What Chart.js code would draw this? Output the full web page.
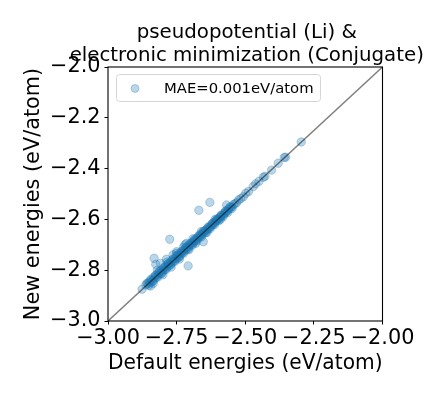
<!DOCTYPE html>
<html>
<head>
<meta charset="utf-8">
<script src="https://cdn.jsdelivr.net/npm/chart.js@4/dist/chart.umd.min.js"></script>
<style>
  html, body { margin: 0; padding: 0; background: #fff; }
  #wrap { width: 432px; height: 396px; }
</style>
</head>
<body>
<div id="wrap"><canvas id="c" width="432" height="396"></canvas></div>
<script>
const TITLE_LINES = ["pseudopotential (Li) &", "electronic minimization (Conjugate)"];
const X_LABEL = "Default energies (eV/atom)";
const Y_LABEL = "New energies (eV/atom)";
const SERIES_LABEL = "MAE=0.001eV/atom";
const X_TICKS = [-3.0, -2.75, -2.5, -2.25, -2.0];
const Y_TICKS = [-3.0, -2.8, -2.6, -2.4, -2.2, -2.0];
const DIAG = [-3.0, -2.0];

const defaultE = [
  -2.876, -2.862, -2.855, -2.850, -2.846, -2.842, -2.838, -2.834, -2.830, -2.826,
  -2.822, -2.818, -2.815, -2.811, -2.808, -2.804, -2.800, -2.797, -2.793, -2.790,
  -2.786, -2.782, -2.779, -2.775, -2.772, -2.768, -2.765, -2.761, -2.758, -2.754,
  -2.751, -2.747, -2.744, -2.740, -2.737, -2.733, -2.730, -2.726, -2.723, -2.719,
  -2.716, -2.712, -2.709, -2.705, -2.702, -2.698, -2.695, -2.691, -2.688, -2.684,
  -2.681, -2.677, -2.674, -2.670, -2.667, -2.663, -2.660, -2.656, -2.653, -2.649,
  -2.646, -2.642, -2.639, -2.635, -2.632, -2.628, -2.625, -2.621, -2.618, -2.614,
  -2.611, -2.607, -2.604, -2.600, -2.597, -2.593, -2.590, -2.586, -2.582, -2.578,
  -2.574, -2.570, -2.566, -2.562, -2.558, -2.553, -2.548, -2.543, -2.537, -2.531,
  -2.524, -2.516, -2.507, -2.498, -2.488, -2.471, -2.462, -2.450, -2.434, -2.428,
  -2.404, -2.380, -2.358, -2.353, -2.296,
  -2.845, -2.835, -2.820, -2.800, -2.785, -2.770, -2.750, -2.740, -2.725, -2.705,
  -2.690, -2.680, -2.660, -2.640, -2.610, -2.590,
  -2.568, -2.629, -2.669, -2.775, -2.653, -2.832, -2.826, -2.809, -2.708, -2.750,
  -2.720, -2.787, -2.763, -2.714,
  -2.858, -2.852, -2.844, -2.836, -2.828, -2.820, -2.812, -2.804, -2.796, -2.788,
  -2.780, -2.772, -2.764, -2.756, -2.748, -2.740, -2.732, -2.724, -2.716, -2.708,
  -2.700, -2.692, -2.684, -2.676, -2.668, -2.660, -2.652, -2.644, -2.636, -2.628,
  -2.620, -2.612, -2.604, -2.596, -2.588, -2.580, -2.572, -2.564, -2.556, -2.548
];
const newE = [
  -2.875, -2.858, -2.852, -2.846, -2.850, -2.838, -2.842, -2.829, -2.833, -2.821,
  -2.826, -2.812, -2.818, -2.806, -2.812, -2.799, -2.804, -2.792, -2.797, -2.785,
  -2.790, -2.776, -2.783, -2.770, -2.776, -2.763, -2.769, -2.756, -2.762, -2.749,
  -2.755, -2.742, -2.748, -2.735, -2.741, -2.729, -2.733, -2.722, -2.726, -2.715,
  -2.719, -2.708, -2.712, -2.701, -2.705, -2.694, -2.698, -2.688, -2.691, -2.681,
  -2.684, -2.674, -2.677, -2.667, -2.670, -2.660, -2.663, -2.653, -2.656, -2.646,
  -2.649, -2.640, -2.642, -2.633, -2.635, -2.626, -2.628, -2.619, -2.621, -2.612,
  -2.613, -2.605, -2.606, -2.598, -2.599, -2.591, -2.592, -2.584, -2.584, -2.577,
  -2.576, -2.568, -2.568, -2.560, -2.559, -2.552, -2.550, -2.541, -2.538, -2.534,
  -2.523, -2.518, -2.511, -2.497, -2.490, -2.471, -2.460, -2.450, -2.434, -2.430,
  -2.406, -2.379, -2.356, -2.355, -2.295,
  -2.862, -2.852, -2.800, -2.818, -2.768, -2.788, -2.733, -2.756, -2.710, -2.720,
  -2.676, -2.694, -2.648, -2.652, -2.600, -2.600,
  -2.543, -2.533, -2.564, -2.678, -2.688, -2.753, -2.777, -2.773, -2.783, -2.727,
  -2.700, -2.757, -2.740, -2.694,
  -2.851, -2.859, -2.836, -2.844, -2.821, -2.829, -2.805, -2.813, -2.789, -2.797,
  -2.773, -2.780, -2.757, -2.765, -2.741, -2.749, -2.726, -2.733, -2.710, -2.717,
  -2.694, -2.701, -2.678, -2.685, -2.662, -2.669, -2.646, -2.653, -2.631, -2.637,
  -2.615, -2.621, -2.599, -2.605, -2.583, -2.589, -2.567, -2.573, -2.551, -2.557
];

const FONT = "'DejaVu Sans', sans-serif";

const framePlugin = {
  id: 'frameAndDecor',
  afterDraw(chart) {
    const ctx = chart.ctx;
    const a = chart.chartArea;
    ctx.save();
    // frame
    ctx.strokeStyle = '#000';
    ctx.lineWidth = 1.1;
    ctx.strokeRect(a.left, a.top, a.right - a.left, a.bottom - a.top);
    // title
    ctx.fillStyle = '#000';
    ctx.font = "19.8px " + FONT;
    ctx.textAlign = 'center';
    ctx.textBaseline = 'alphabetic';
    const cx = (a.left + a.right) / 2 + 1.5;
    ctx.fillText(TITLE_LINES[0], cx, 37.5);
    ctx.fillText(TITLE_LINES[1], cx, 60.5);
    // legend
    const lx = a.left + 8.5, ly = a.top + 7.5, lw = 204, lh = 27, r = 3;
    ctx.beginPath();
    ctx.moveTo(lx + r, ly);
    ctx.lineTo(lx + lw - r, ly);
    ctx.arcTo(lx + lw, ly, lx + lw, ly + r, r);
    ctx.lineTo(lx + lw, ly + lh - r);
    ctx.arcTo(lx + lw, ly + lh, lx + lw - r, ly + lh, r);
    ctx.lineTo(lx + r, ly + lh);
    ctx.arcTo(lx, ly + lh, lx, ly + lh - r, r);
    ctx.lineTo(lx, ly + r);
    ctx.arcTo(lx, ly, lx + r, ly, r);
    ctx.closePath();
    ctx.fillStyle = 'rgba(255,255,255,0.8)';
    ctx.fill();
    ctx.strokeStyle = '#d6d6d6';
    ctx.lineWidth = 1;
    ctx.stroke();
    ctx.beginPath();
    ctx.arc(lx + 18.5, ly + 14, 4, 0, Math.PI * 2);
    ctx.fillStyle = 'rgba(31,119,180,0.3)';
    ctx.fill();
    ctx.strokeStyle = 'rgba(31,119,180,0.3)';
    ctx.stroke();
    ctx.fillStyle = '#000';
    ctx.font = "14.8px " + FONT;
    ctx.textAlign = 'left';
    ctx.fillText(chart.data.datasets[1].label, lx + 47.5, ly + 18.5);
    ctx.restore();
  }
};

const fmtMinus = (v, d) => (v < 0 ? '\u2212' : '') + Math.abs(v).toFixed(d);

new Chart(document.getElementById('c'), {
  type: 'scatter',
  data: {
    datasets: [
      {
        label: 'diag',
        data: DIAG.map(v => ({ x: v, y: v })),
        showLine: true,
        borderColor: 'rgba(0,0,0,0.5)',
        borderWidth: 1.5,
        pointRadius: 0,
        order: 0
      },
      {
        label: SERIES_LABEL,
        data: defaultE.map((x, i) => ({ x: x, y: newE[i] })),
        backgroundColor: 'rgba(31,119,180,0.3)',
        borderColor: 'rgba(31,119,180,0.3)',
        borderWidth: 1,
        pointRadius: 4.2,
        order: 1
      }
    ]
  },
  options: {
    responsive: false,
    animation: false,
    events: [],
    layout: { padding: { top: 67, right: 49.5, left: 0, bottom: 0 } },
    plugins: {
      legend: { display: false },
      title: { display: false },
      tooltip: { enabled: false }
    },
    scales: {
      x: {
        type: 'linear',
        position: 'bottom',
        min: -3, max: -2,
        afterBuildTicks: s => { s.ticks = X_TICKS.map(v => ({ value: v })); },
        afterFit: s => { s.height = 75; },
        ticks: {
          autoSkip: false, maxRotation: 0, minRotation: 0,
          padding: 2,
          color: '#000',
          font: { family: FONT, size: 20.8 },
          callback: v => fmtMinus(v, 2)
        },
        grid: { display: true, drawOnChartArea: false, drawTicks: true, tickLength: 3.5, tickColor: '#000', tickWidth: 1 },
        border: { display: false },
        title: {
          display: true, text: X_LABEL, color: '#000',
          font: { family: FONT, size: 20.8 }, padding: { top: 0, bottom: 20 }
        }
      },
      y: {
        type: 'linear',
        position: 'left',
        min: -3, max: -2,
        afterBuildTicks: s => { s.ticks = Y_TICKS.map(v => ({ value: v })); },
        afterFit: s => { s.width = 108; },
        ticks: {
          autoSkip: false,
          padding: 4,
          color: '#000',
          font: { family: FONT, size: 20.8 },
          callback: v => fmtMinus(v, 1)
        },
        grid: { display: true, drawOnChartArea: false, drawTicks: true, tickLength: 3.5, tickColor: '#000', tickWidth: 1 },
        border: { display: false },
        title: {
          display: true, text: Y_LABEL, color: '#000',
          font: { family: FONT, size: 20.8 }, padding: { top: 21, bottom: 0 }
        }
      }
    }
  },
  plugins: [framePlugin]
});
</script>
</body>
</html>
